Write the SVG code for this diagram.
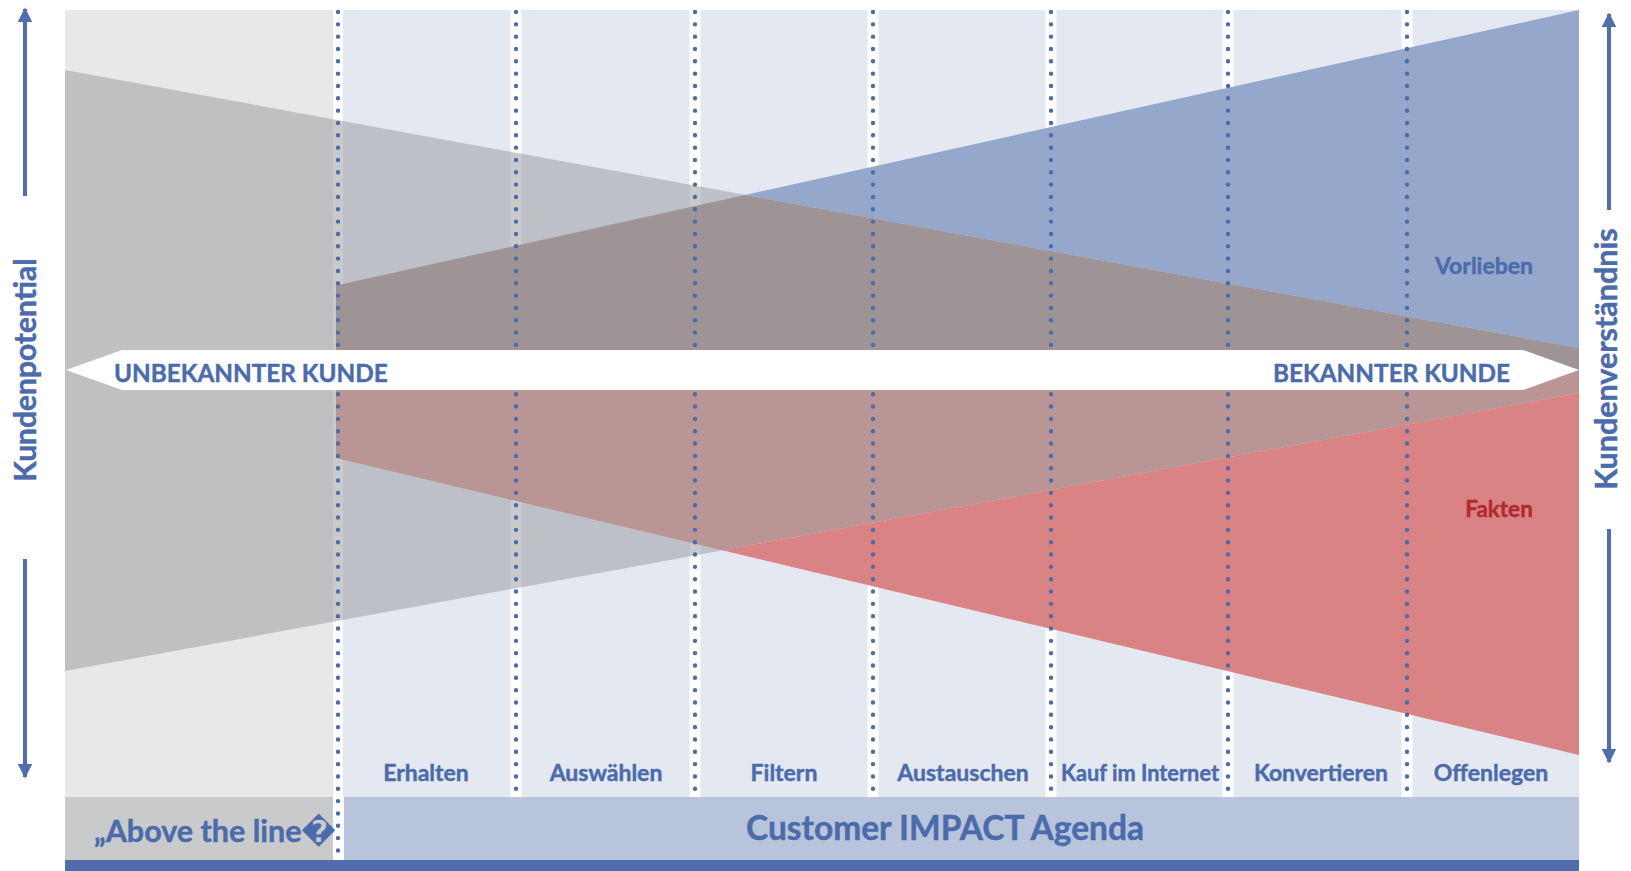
<svg xmlns="http://www.w3.org/2000/svg" width="1631" height="871" viewBox="0 0 1631 871">
<defs>
<style>
.t{font-family:Lato,"Liberation Sans","DejaVu Sans",sans-serif;font-weight:bold;fill:#4b6bab;stroke:#4b6bab;stroke-width:0.45}
.lab{font-size:23px;text-anchor:middle}
.dots{stroke:#4b6bab;stroke-width:4.4;stroke-linecap:round;stroke-dasharray:0 12.33;fill:none}
.ax{stroke:#4f6eac;stroke-width:4;fill:none}
.col{fill:#e4e8f1}
</style>
<marker id="ah" viewBox="0 0 10 10" refX="9" refY="5" markerWidth="5" markerHeight="3.6" orient="auto" markerUnits="strokeWidth">
<path d="M0,0 L10,5 L0,10 Z" fill="#4f6eac"/>
</marker>
</defs>
<rect width="1631" height="871" fill="#ffffff"/>
<g id="background">
<rect x="65" y="10" width="268" height="787" fill="#e8e8e8"/>
<rect class="col" x="343" y="10" width="167.5" height="787"/>
<rect class="col" x="521.5" y="10" width="168" height="787"/>
<rect class="col" x="700.5" y="10" width="167" height="787"/>
<rect class="col" x="878.5" y="10" width="167" height="787"/>
<rect class="col" x="1056.5" y="10" width="166" height="787"/>
<rect class="col" x="1233.5" y="10" width="168" height="787"/>
<rect class="col" x="1412.5" y="10" width="166.5" height="787"/>
</g>
<g id="kundenpotential-shape">
<polygon points="65,70 1579,348 1579,393 65,671" fill="#a0a2a6" fill-opacity="0.57"/>
</g>
<g id="vorlieben-shape">
<polygon points="745,194.9 1579,10 1579,348" fill="#95a8cb"/>
<polygon points="336,285.5 745,194.9 1579,348 1579,370 336,370" fill="#9e9395"/>
</g>
<g id="fakten-shape">
<polygon points="336,370 1579,370 1579,393 722.3,550.3 336,458" fill="#b99695"/>
<polygon points="722.3,550.3 1579,393 1579,755" fill="#d98385"/>
</g>
<g id="bottom-bars">
<rect x="65" y="797" width="268" height="63" fill="#c9cacc"/>
<rect x="344" y="797" width="1235" height="63" fill="#b8c4dc"/>
<rect x="65" y="860" width="1514" height="11" fill="#4f6dab"/>
</g>
<g id="connectors">
<line class="dots" x1="338" y1="12" x2="338" y2="860"/>
<line class="dots" x1="516" y1="12" x2="516" y2="797"/>
<line class="dots" x1="695" y1="12" x2="695" y2="797"/>
<line class="dots" x1="873" y1="12" x2="873" y2="797"/>
<line class="dots" x1="1051" y1="12" x2="1051" y2="797"/>
<line class="dots" x1="1228" y1="12" x2="1228" y2="797"/>
<line class="dots" x1="1407" y1="12" x2="1407" y2="797"/>
<line class="ax" x1="25" y1="196" x2="25" y2="9" marker-end="url(#ah)"/>
<line class="ax" x1="25" y1="559" x2="25" y2="777" marker-end="url(#ah)"/>
<line class="ax" x1="1609" y1="210" x2="1609" y2="14" marker-end="url(#ah)"/>
<line class="ax" x1="1609" y1="529" x2="1609" y2="762" marker-end="url(#ah)"/>
</g>
<g id="band">
<polygon points="66,370 122,350 1523,350 1579,370 1523,390 122,390" fill="#ffffff"/>
<text class="t" x="114" y="382" font-size="24.3">UNBEKANNTER KUNDE</text>
<text class="t" x="1510" y="382" font-size="24.3" text-anchor="end">BEKANNTER KUNDE</text>
</g>
<g id="stage-labels">
<text class="t lab" x="426" y="781">Erhalten</text>
<text class="t lab" x="606" y="781">Auswählen</text>
<text class="t lab" x="784" y="781">Filtern</text>
<text class="t lab" x="963" y="781">Austauschen</text>
<text class="t lab" x="1140" y="781" textLength="158" lengthAdjust="spacingAndGlyphs">Kauf im Internet</text>
<text class="t lab" x="1321" y="781">Konvertieren</text>
<text class="t lab" x="1491" y="781">Offenlegen</text>
</g>
<g id="shape-labels">
<text class="t" x="1484" y="274" font-size="23" text-anchor="middle">Vorlieben</text>
<text class="t" x="1499" y="517" font-size="22.5" text-anchor="middle" style="fill:#b22a30;stroke:#b22a30">Fakten</text>
</g>
<g id="axis-labels">
<text class="t" transform="translate(36,370) rotate(-90)" font-size="30" text-anchor="middle">Kundenpotential</text>
<text class="t" transform="translate(1617,359) rotate(-90)" font-size="30.5" text-anchor="middle">Kundenverständnis</text>
</g>
<g id="footer-labels">
<text class="t" x="94" y="842" font-size="30.5">„Above the line�</text>
<text class="t" x="945" y="840" font-size="33.5" text-anchor="middle">Customer IMPACT Agenda</text>
</g>
</svg>
